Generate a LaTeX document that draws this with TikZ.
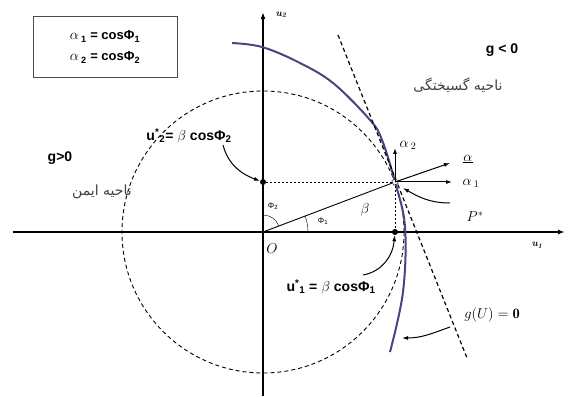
\documentclass[tikz,border=0pt]{standalone}
\usepackage{fontspec}
\setsansfont{Liberation Sans}
\newfontfamily\arabicfont[Script=Arabic]{DejaVu Sans}
\TeXXeTstate=1
\usetikzlibrary{arrows.meta}
\definecolor{curveblue}{RGB}{70,70,130}
\tikzset{
  axis/.style={line width=1.6pt, -{Latex[length=7pt,width=5pt]}},
  guide/.style={line width=0.9pt, dash pattern=on 4pt off 3pt},
  fineguide/.style={line width=0.6pt, dash pattern=on 2pt off 2pt},
  vec/.style={line width=1pt, -{Latex[length=6pt,width=4pt]}},
  pointer/.style={line width=1pt, -{Latex[length=6pt,width=4pt]}},
  lbl/.style={font=\sffamily\bfseries\fontsize{14}{17}\selectfont},
  mlbl/.style={font=\Large},
  region/.style={font=\arabicfont\fontsize{14}{16}\selectfont, text=black!75},
  ptdot/.style={circle, fill, inner sep=0pt, minimum size=6pt},
}
\begin{document}
\begin{tikzpicture}[x=1pt,y=1pt]
  \useasboundingbox (-263,-164) rectangle (306,232);
  % 坐标轴
  \coordinate (O) at (0,0);
  \draw[axis] (-250,0) -- (302,0);
  \draw[axis] (0,-164) -- (0,220);
  \node (u1) at (274,-13) {\bfseries\itshape u\textsubscript{1}};
  \node (u2) at (18,217) {\bfseries\itshape u\textsubscript{2}};

  % 圆与极限状态曲线
  \draw[guide] (O) circle (141);
  \draw[curveblue, line width=2pt] plot[smooth, tension=0.6] coordinates
    {(-31,189) (-1,185) (35,170) (70,149) (107,112) (119,92) (132,50) (142,5) (140,-60) (127,-120)};
  \draw[line width=1.2pt, dash pattern=on 4pt off 3pt] (75,197) -- (204,-126);

  % 设计点
  \coordinate (P) at (132,50);
  \node[ptdot] (d2) at (0,50) {};
  \node[ptdot] (d1) at (132,0) {};
  \draw[fineguide] (d2) -- (P);
  \draw[fineguide] (P) -- (d1);
  \draw[line width=0.9pt] (O) -- (P);
  \node[draw, fill=white, inner sep=0pt, minimum size=5pt, rotate=21] (Pbox) at (P) {};

  % 单位向量
  \draw[vec] (P) -- (132,84) coordinate (a2tip);
  \draw[vec] (P) -- (187,69) coordinate (atip);
  \draw[vec] (P) -- (189,50) coordinate (a1tip);
  \node[mlbl] (a2) at (145,87) {$\alpha$\,\textsubscript{2}};
  \node[mlbl] (a) at (205,73) {$\underline{\alpha}$};
  \node[mlbl] (a1) at (208,49) {$\alpha$\,\textsubscript{1}};

  % 角度
  \draw (0,17) arc (90:21:17);
  \draw (45,0) arc (0:21:45);
  \node (phi2) at (10,26) {\sffamily\footnotesize Φ\textsubscript{2}};
  \node (phi1) at (60,11) {\sffamily\footnotesize Φ\textsubscript{1}};
  \node[mlbl] (beta) at (102,22) {$\beta$};
  \node[mlbl] (o) at (9,-17) {$O$};

  % 说明框
  \node[draw=black!70, line width=0.8pt, minimum width=144pt, minimum height=61pt,
    align=center, font=\sffamily\bfseries\fontsize{13}{21}\selectfont] (defs) at (-158,185)
    {{\Large$\alpha$}\,\textsubscript{1} = cosΦ\textsubscript{1}\\ {\Large$\alpha$}\,\textsubscript{2} = cosΦ\textsubscript{2}};

  % 区域
  \node[lbl] (gneg) at (239,182) {g < 0};
  \node[region] (fail) at (195,147) {\beginR ناحیه گسیختگی\endR};
  \node[lbl] (gpos) at (-203,74) {g>0};
  \node[region] (safe) at (-161,40) {\beginR ناحیه ایمن\endR};

  % 标注
  \node[lbl] (u2lbl) at (-74,96) {u\textsuperscript{*}\textsubscript{2}= {\Large$\beta$} cosΦ\textsubscript{2}};
  \node[lbl] (u1lbl) at (68,-55) {u\textsuperscript{*}\textsubscript{1} = {\Large$\beta$} cosΦ\textsubscript{1}};
  \node[mlbl] (pstar) at (212,15) {$P^{*}$};
  \node[mlbl] (gU) at (229,-83) {$g(U)=\mathbf{0}$};
  \coordinate (u2tail) at (-40,87);
  \coordinate (u1tail) at (100,-43);
  \coordinate (ptail) at (187,29);
  \coordinate (gtail) at (187,-95);
  \coordinate (gtip) at (139,-106);
  \coordinate (ptip) at (140,44);
  \draw[pointer] (u2tail) to[out=-75, in=160] (d2);
  \draw[pointer] (u1tail) to[out=10, in=-95] (d1);
  \draw[pointer] (ptail) to[out=180, in=-30] (ptip);
  \draw[pointer] (gtail) to[out=200, in=0] (gtip);
\end{tikzpicture}
\end{document}
